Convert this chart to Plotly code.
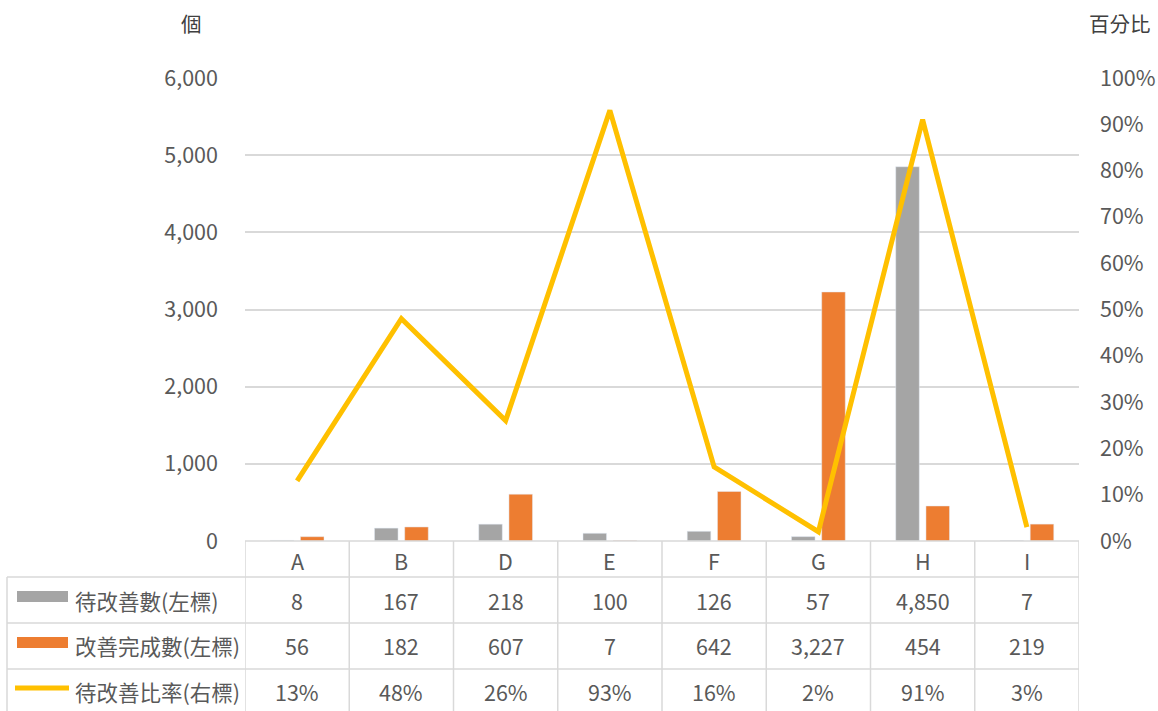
import plotly.graph_objects as go

categories = ["A", "B", "D", "E", "F", "G", "H", "I"]
pending = [8, 167, 218, 100, 126, 57, 4850, 7]
completed = [56, 182, 607, 7, 642, 3227, 454, 219]
ratio = [13, 48, 26, 93, 16, 2, 91, 3]

series_names = ["待改善數(左標)", "改善完成數(左標)", "待改善比率(右標)"]
left_ticks = [0, 1000, 2000, 3000, 4000, 5000, 6000]
right_ticks = [0, 10, 20, 30, 40, 50, 60, 70, 80, 90, 100]

GRAY = "#a5a5a5"
ORANGE = "#ed7d31"
YELLOW = "#ffc000"
TXT = "#595959"
FONT = "Noto Sans CJK TC"
FS = 21.5

W, H = 1158, 711
L, R, T, B = 245, 79, 78, 170
PW = W - L - R
PH = H - T - B


def py(Y):
    return (H - B - Y) / PH


def px(X):
    return (X - L) / PW


fig = go.Figure()
fig.add_trace(go.Bar(x=categories, y=pending, name=series_names[0],
                     marker=dict(color=GRAY), yaxis="y"))
fig.add_trace(go.Bar(x=categories, y=completed, name=series_names[1],
                     marker=dict(color=ORANGE), yaxis="y"))
fig.add_trace(go.Scatter(x=categories, y=ratio, name=series_names[2], mode="lines",
                         line=dict(color=YELLOW, width=5), yaxis="y2"))

shapes = []
annotations = []
grid = "#d9d9d9"
row_tops = [541, 577, 623, 669, 715]
left_col = 7
n = len(categories)
shapes.append(dict(type="line", xref="paper", yref="paper", x0=0, x1=1,
                   y0=py(541), y1=py(541), line=dict(color=grid, width=1.5)))
for Y in row_tops[1:4]:
    shapes.append(dict(type="line", xref="paper", yref="paper", x0=px(left_col), x1=1,
                       y0=py(Y), y1=py(Y), line=dict(color=grid, width=1.5)))
for k in range(n + 1):
    shapes.append(dict(type="line", xref="x", yref="paper", x0=k - 0.5, x1=k - 0.5,
                       y0=py(541), y1=py(715), line=dict(color=grid, width=1.5)))
shapes.append(dict(type="line", xref="paper", yref="paper", x0=px(left_col), x1=px(left_col),
                   y0=py(577), y1=py(715), line=dict(color=grid, width=1.5)))

shapes.append(dict(type="rect", xref="paper", yref="paper", x0=px(17), x1=px(68),
                   y0=py(602), y1=py(591), fillcolor=GRAY, line=dict(width=0)))
shapes.append(dict(type="rect", xref="paper", yref="paper", x0=px(17), x1=px(68),
                   y0=py(648), y1=py(637), fillcolor=ORANGE, line=dict(width=0)))
shapes.append(dict(type="line", xref="paper", yref="paper", x0=px(15), x1=px(69),
                   y0=py(688), y1=py(688), line=dict(color=YELLOW, width=5)))

font = dict(family=FONT, size=FS, color=TXT)
for i, c in enumerate(categories):
    annotations.append(dict(x=i, y=py(560), xref="x", yref="paper", text=c,
                            xanchor="center", yanchor="middle",
                            showarrow=False, font=font))
rows = [
    [f"{v:,}" for v in pending],
    [f"{v:,}" for v in completed],
    [f"{v}%" for v in ratio],
]
row_centers = [600, 645, 691]
for r, (vals, yc) in enumerate(zip(rows, row_centers)):
    annotations.append(dict(x=px(73), y=py(yc), xref="paper", yref="paper",
                            text=series_names[r], showarrow=False, xanchor="left",
                            yanchor="middle", font=font))
    for i, v in enumerate(vals):
        annotations.append(dict(x=i, y=py(yc), xref="x", yref="paper", text=v,
                                xanchor="center", yanchor="middle",
                                showarrow=False, font=font))

annotations.append(dict(x=px(191), y=py(23), xref="paper", yref="paper", text="個",
                        xanchor="center", yanchor="middle",
                        showarrow=False, font=dict(family=FONT, size=FS - 1, color="#404040")))
annotations.append(dict(x=px(1120), y=py(23), xref="paper", yref="paper", text="百分比",
                        xanchor="center", yanchor="middle",
                        showarrow=False, font=dict(family=FONT, size=FS - 1, color="#404040")))

fig.update_layout(
    width=W, height=H,
    margin=dict(l=L, r=R, t=T, b=B, autoexpand=False),
    paper_bgcolor="white", plot_bgcolor="white",
    showlegend=False,
    barmode="group", bargap=0.42, bargroupgap=0.22,
    font=dict(family=FONT, color=TXT),
    xaxis=dict(type="category", range=[-0.5, n - 0.5], showticklabels=False,
               showgrid=False, zeroline=False, showline=False, ticks="",
               automargin=False),
    yaxis=dict(range=[0, 6000], tickvals=left_ticks,
               ticktext=[f"{v:,}" for v in left_ticks],
               showgrid=True, gridcolor=grid, gridwidth=1.5, zeroline=False,
               showline=False, ticks="", ticklabelstandoff=26, automargin=False,
               tickfont=dict(family=FONT, size=FS, color=TXT)),
    yaxis2=dict(range=[0, 100], tickvals=right_ticks,
                ticktext=[f"{v}%" for v in right_ticks],
                overlaying="y", side="right", showgrid=False, zeroline=False,
                showline=False, ticks="", ticklabelstandoff=20, automargin=False,
                tickfont=dict(family=FONT, size=FS, color=TXT)),
    shapes=shapes, annotations=annotations,
)

fig.write_html("out.html", config={"displayModeBar": False},
               post_script="document.body.style.margin='0';document.body.style.overflow='hidden';")
